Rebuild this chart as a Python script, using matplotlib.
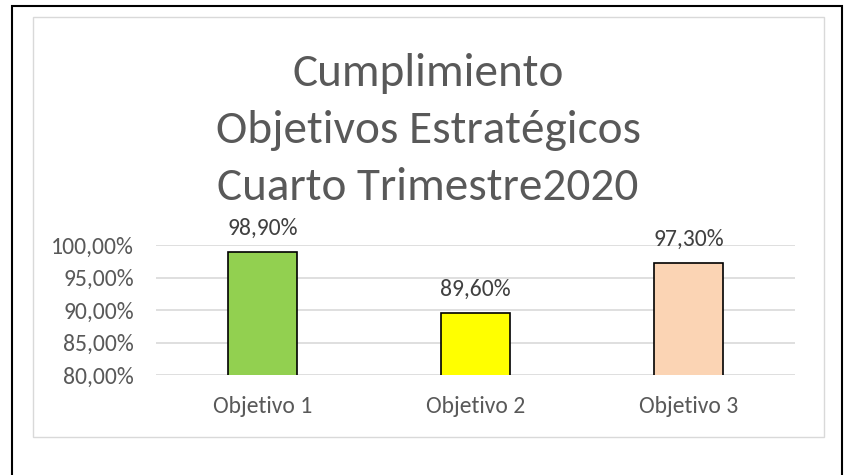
import matplotlib
matplotlib.use('Agg')
import matplotlib.pyplot as plt
from matplotlib.patches import Rectangle

# datos
categorias = ['Objetivo 1', 'Objetivo 2', 'Objetivo 3']
cumplimiento = [0.989, 0.896, 0.973]
colores = ['#92D050', '#FFFF00', '#FBD4B4']
ticks_y = [0.80, 0.85, 0.90, 0.95, 1.00]
titulo = ['Cumplimiento', 'Objetivos Estratégicos', 'Cuarto Trimestre2020']

plt.rcParams['font.family'] = ['Carlito', 'Open Sans', 'DejaVu Sans']

W, H = 850, 475
fig = plt.figure(figsize=(W / 100, H / 100), dpi=100)

# marcos (en pixeles, origen abajo a la izquierda)
fig.patches.append(Rectangle((12, -5), 830, H - 6 + 5, transform=None,
                             fill=False, edgecolor='black', linewidth=1.5))
fig.patches.append(Rectangle((32.5, H - 437), 791.5, 437 - 16.5, transform=None,
                             fill=False, edgecolor='#D9D9D9', linewidth=1.0))

ax = fig.add_axes([156 / W, 1 - 375 / H, (795 - 156) / W, (375 - 245) / H])
x = range(len(categorias))
barras = ax.bar(x, cumplimiento, width=0.32, color=colores,
                edgecolor='black', linewidth=1.2, zorder=3)

ax.set_xlim(-0.5, 2.5)
ax.set_ylim(0.80, 1.00)
ax.set_yticks(ticks_y)
ax.set_yticklabels([f'{v * 100:.2f}%'.replace('.', ',') for v in ticks_y])
ax.set_xticks(list(x))
ax.set_xticklabels(categorias)
ax.tick_params(axis='y', length=0, pad=16, labelsize=17, labelcolor='#595959')
ax.tick_params(axis='x', length=0, pad=15, labelsize=17, labelcolor='#595959')
for s in ax.spines.values():
    s.set_visible(False)
ax.yaxis.grid(True, color='#D9D9D9', linewidth=1.2)
ax.set_axisbelow(True)

for b, v in zip(barras, cumplimiento):
    ax.annotate(f'{v * 100:.2f}%'.replace('.', ','), (b.get_x() + b.get_width() / 2, v),
                xytext=(0, 17), textcoords='offset points', ha='center', va='center',
                fontsize=17, color='#404040', annotation_clip=False)

# titulo, una linea por texto
for linea, yb in zip(titulo, [86, 143, 200]):
    fig.text(428 / W, 1 - yb / H, linea, ha='center', va='baseline',
             fontsize=34, color='#595959')

fig.savefig('out.png', dpi=100)
